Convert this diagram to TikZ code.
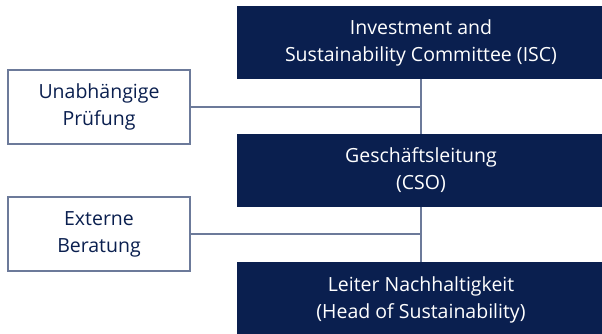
\documentclass[tikz,border=0pt]{standalone}
\usepackage{fontspec}
\setmainfont{Open Sans}
\definecolor{navy}{HTML}{0A1F4F}
\definecolor{linec}{HTML}{6C7A9A}
\begin{document}
\begin{tikzpicture}[x=1pt,y=-1pt,
  dark/.style={fill=navy,draw=none,text=white,minimum width=368pt,minimum height=73pt,inner sep=0pt,align=center,font=\fontsize{19.5}{27}\selectfont},
  light/.style={fill=white,draw=linec,line width=1.4pt,text=navy,minimum width=182pt,minimum height=74pt,inner sep=0pt,align=center,font=\fontsize{19.5}{27}\selectfont},
  conn/.style={draw=linec,line width=1.4pt}]
\useasboundingbox (0,0) rectangle (602,333);
\node[dark] (isc) at (421,42.5) {Investment and\\Sustainability Committee (ISC)};
\node[dark] (gl) at (421,170.5) {Geschäftsleitung\\(CSO)};
\node[dark,minimum height=76pt] (lt) at (421,300) {Leiter Nachhaltigkeit\\(Head of Sustainability)};
\node[light] (up) at (99,107) {Unabhängige\\Prüfung};
\node[light] (eb) at (99,234) {Externe\\Beratung};
\coordinate (j1) at (421,107);
\coordinate (j2) at (421,234);
\draw[conn] (isc.south) -- (gl.north);
\draw[conn] (gl.south) -- (lt.north);
\draw[conn] (up.east) -- (j1);
\draw[conn] (eb.east) -- (j2);
\end{tikzpicture}
\end{document}
